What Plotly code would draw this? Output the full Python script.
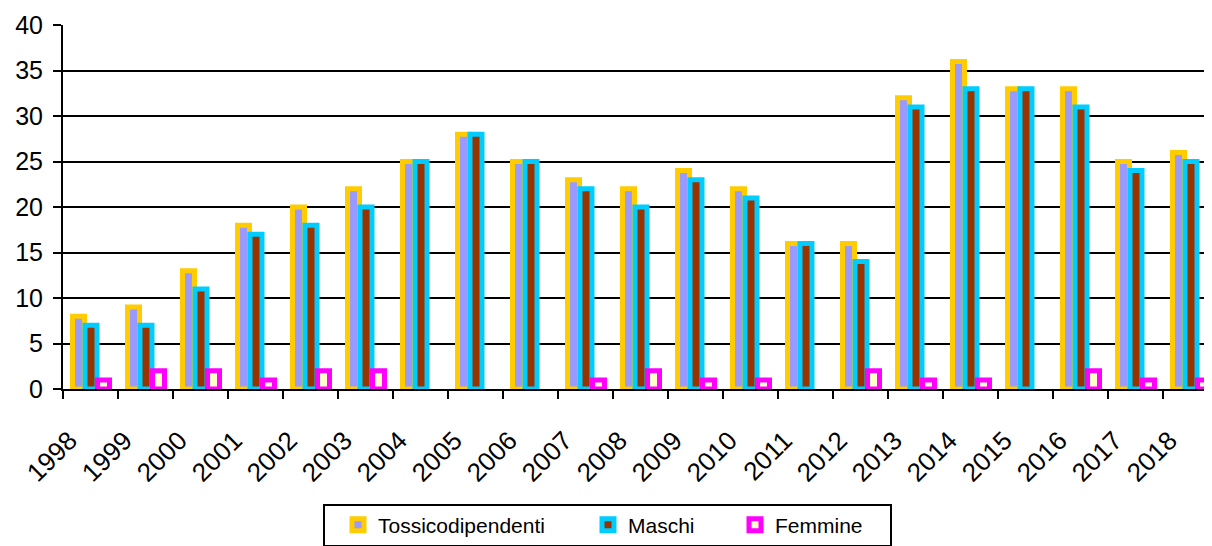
import plotly.graph_objects as go

# --- data -------------------------------------------------------------
anni = ["1998", "1999", "2000", "2001", "2002", "2003", "2004", "2005", "2006", "2007", "2008",
        "2009", "2010", "2011", "2012", "2013", "2014", "2015", "2016", "2017", "2018"]
tossicodipendenti = [8, 9, 13, 18, 20, 22, 25, 28, 25, 23, 22, 24, 22, 16, 16, 32, 36, 33, 33, 25, 26]
maschi = [7, 7, 11, 17, 18, 20, 25, 28, 25, 22, 20, 23, 21, 16, 14, 31, 33, 33, 31, 24, 25]
femmine = [1, 2, 2, 1, 2, 2, 0, 0, 0, 1, 2, 1, 1, 0, 2, 1, 1, 0, 2, 1, 1]
y_ticks = [0, 5, 10, 15, 20, 25, 30, 35, 40]

FONT = "Arial, Liberation Sans, sans-serif"
# page body has an 8px margin, so the figure is drawn 8px in from the window corner
PAGE_OFF = 8
W, H = 1212 - PAGE_OFF, 546 - PAGE_OFF
PLOT_L, PLOT_T, PLOT_B = 63, 25, 389  # plot area in window px
L, T, B = PLOT_L - PAGE_OFF, PLOT_T - PAGE_OFF, H - (PLOT_B - PAGE_OFF)
CAT = 55.0            # category width in px
BAR_W = 12 / CAT      # bar width (line centred on edge, 5px stroke)

series = [
    ("Tossicodipendenti", tossicodipendenti, "#9999FF", "#FFCC00", -18 / CAT, "legend"),
    ("Maschi", maschi, "#993300", "#00CCFF", -5.5 / CAT, "legend2"),
    ("Femmine", femmine, "#FFFFCC", "#FF00FF", 7 / CAT, "legend3"),
]

fig = go.Figure()
for name, vals, fill, edge, off, leg in series:
    # Excel draws nothing for empty bars, so no outline there either
    fig.add_trace(go.Bar(
        x=anni, y=vals, name=name, legend=leg, showlegend=True,
        offset=off, width=BAR_W,
        marker=dict(color=fill, line=dict(color=edge, width=[5 if v else 0 for v in vals])),
    ))


def px_x(p):
    return (p - PLOT_L) / (W - L)


def px_y(p):
    return (PLOT_B - p) / (PLOT_B - PLOT_T)


leg_common = dict(orientation="h", yanchor="middle", xanchor="left",
                  bgcolor="rgba(0,0,0,0)", borderwidth=0, visible=True,
                  font=dict(family=FONT, size=21, color="black"))

fig.update_layout(
    width=W, height=H,
    margin=dict(l=L, r=0, t=T, b=B, autoexpand=False),
    plot_bgcolor="white", paper_bgcolor="white",
    barmode="overlay", showlegend=True,
    font=dict(family=FONT, color="black"),
    legend=dict(x=px_x(338), y=px_y(525), **leg_common),
    legend2=dict(x=px_x(588), y=px_y(525), **leg_common),
    legend3=dict(x=px_x(735), y=px_y(525), **leg_common),
    shapes=[dict(type="rect", xref="paper", yref="paper",
                 x0=px_x(324), x1=px_x(891), y0=px_y(546), y1=px_y(505),
                 line=dict(color="black", width=2), fillcolor="rgba(0,0,0,0)")],
)

fig.update_xaxes(
    type="category", range=[-0.5, -0.5 + (W - L) / CAT],
    tickson="boundaries", ticks="outside", ticklen=8, tickwidth=2, tickcolor="black",
    showline=True, linewidth=2, linecolor="black", showgrid=False,
    tickangle=-45, tickfont=dict(family=FONT, size=26, color="black"),
    ticklabelshift=-21, ticklabelstandoff=24, automargin=False,
)
fig.update_yaxes(
    range=[0, 40], tickvals=y_ticks,
    showgrid=True, gridcolor="black", gridwidth=2, zeroline=False,
    showline=True, linewidth=2, linecolor="black",
    ticks="outside", ticklen=8, tickwidth=2, tickcolor="black",
    tickfont=dict(family=FONT, size=25, color="black"),
    ticklabelstandoff=5, automargin=False,
)

fig.write_html("out.html")
